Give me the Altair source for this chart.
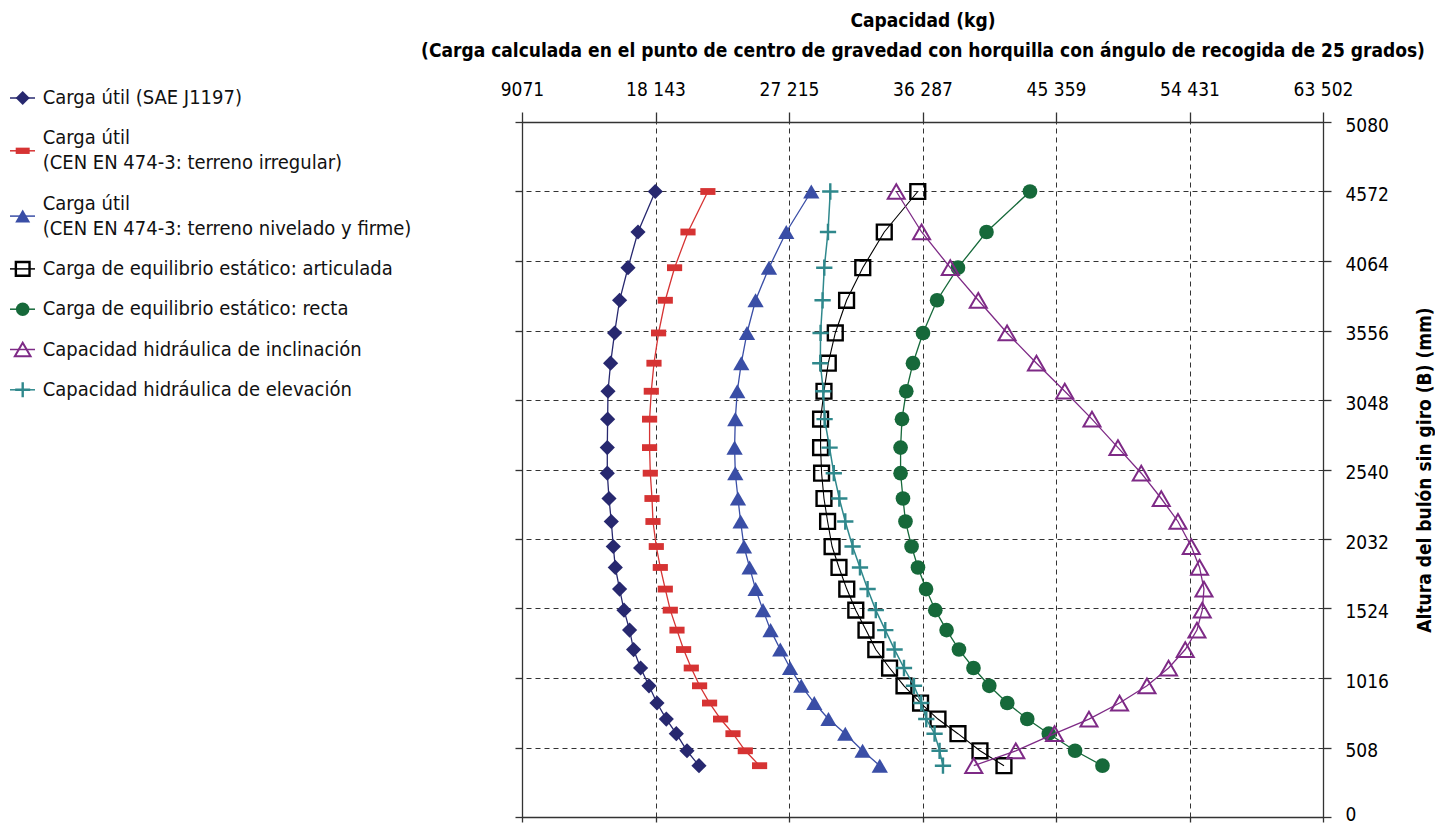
import altair as alt
import pandas as pd

FONT = "DejaVu Sans Condensed, Liberation Sans Narrow, sans-serif"

# ---------------- data ----------------
SERIES = [
    "Carga útil (SAE J1197)",
    "Carga útil (CEN EN 474-3: terreno irregular)",
    "Carga útil (CEN EN 474-3: terreno nivelado y firme)",
    "Carga de equilibrio estático: articulada",
    "Carga de equilibrio estático: recta",
    "Capacidad hidráulica de inclinación",
    "Capacidad hidráulica de elevación",
]
LEGEND_LINES = [
    ["Carga útil (SAE J1197)"],
    ["Carga útil", "(CEN EN 474-3: terreno irregular)"],
    ["Carga útil", "(CEN EN 474-3: terreno nivelado y firme)"],
    ["Carga de equilibrio estático: articulada"],
    ["Carga de equilibrio estático: recta"],
    ["Capacidad hidráulica de inclinación"],
    ["Capacidad hidráulica de elevación"],
]

# Altura del bulón (mm), from top point to bottom point
ALTURA = [4572, 4276, 4015, 3777, 3538, 3317, 3112, 2908, 2700, 2513, 2328, 2160, 1977,
          1824, 1666, 1512, 1366, 1224, 1089, 959, 833, 716, 609, 484, 375]

SAE = [18129, 16953, 16274, 15703, 15363, 15091, 14915, 14890, 14867, 14867, 14983, 15139, 15275,
       15411, 15703, 16002, 16382, 16654, 17130, 17701, 18244, 18876, 19556, 20283, 21098]
IRREG = [21703, 20351, 19440, 18808, 18353, 18040, 17857, 17741, 17741, 17789, 17905, 17972, 18197,
         18469, 18808, 19148, 19603, 20052, 20575, 21139, 21818, 22566, 23408, 24244, 25216]
NIVEL = [28729, 27030, 25855, 24944, 24360, 23972, 23701, 23565, 23517, 23565, 23748, 23925, 24156,
         24536, 24944, 25447, 25963, 26623, 27288, 28049, 28933, 29898, 31039, 32215, 33384]
ARTIC = [35966, 33689, 32228, 31128, 30360, 29884, 29592, 29361, 29361, 29429, 29592, 29837, 30142,
         30611, 31141, 31753, 32446, 33112, 34049, 35028, 36156, 37338, 38697, 40192, 41823]
RECTA = [43590, 40634, 38697, 37277, 36319, 35639, 35184, 34892, 34797, 34797, 34960, 35130, 35544,
         35979, 36530, 37155, 37923, 38765, 39750, 40824, 42047, 43406, 44867, 46654, 48516]
INCLIN = [34505, 36224, 38174, 40077, 42034, 44031, 45954, 47803, 49569, 51152, 52511, 53646, 54550,
          55114, 55413, 55297, 54937, 54142, 53007, 51540, 49678, 47599, 45261, 42625, 39771]
ELEV = [30020, 29864, 29612, 29497, 29361, 29341, 29544, 29633, 29972, 30258, 30632, 31039, 31535,
        32038, 32555, 33112, 33757, 34389, 35028, 35707, 36203, 36543, 37107, 37447, 37678]
VALUES = [SAE, IRREG, NIVEL, ARTIC, RECTA, INCLIN, ELEV]

X_TICKS = [9071, 18143, 27215, 36287, 45359, 54431, 63502]
Y_TICKS = [0, 508, 1016, 1524, 2032, 2540, 3048, 3556, 4064, 4572, 5080]

X_TITLE = ["Capacidad (kg)",
           "(Carga calculada en el punto de centro de gravedad con horquilla con ángulo de recogida de 25 grados)"]
Y_TITLE = "Altura del bulón sin giro (B) (mm)"

# ---------------- styles ----------------
COLORS = ["#27286f", "#d63333", "#3a4ea6", "#000000", "#16693a", "#7e2a86", "#2f888c"]
SHAPES = ["diamond", "M-1,-0.45H1V0.45H-1Z", "triangle-up", "square", "circle", "triangle-up",
          "M-1,0H1M0,-1V1"]
FILLED = [True, True, True, False, True, False, False]
SIZES = [230, 230, 265, 220, 215, 290, 265]
MARK_SW = [0, 0, 0, 2.4, 0, 2.0, 2.4]
LINE_W = [1.3, 1.3, 1.3, 1.1, 1.3, 1.3, 1.5]
AX = "#333333"

rows = []
for k, xs in enumerate(VALUES):
    for i, (x, y) in enumerate(zip(xs, ALTURA)):
        rows.append({"k": k, "i": i, "cap": x, "alt": y})
df = pd.DataFrame(rows)

XS = alt.Scale(domain=[X_TICKS[0], X_TICKS[-1]], nice=False, zero=False)
YS = alt.Scale(domain=[Y_TICKS[0], Y_TICKS[-1]], nice=False)

x_top = alt.X("cap:Q", scale=XS, axis=alt.Axis(
    orient="top", values=X_TICKS,
    labelExpr="datum.value >= 10000 ? replace(format(datum.value, ','), ',', ' ') : format(datum.value, 'd')",
    labelFont=FONT, labelFontSize=19, labelColor="#000", labelPadding=13, labelFlush=False,
    labelOverlap=False, tickSize=10, tickColor=AX, tickWidth=1.3,
    domainColor=AX, domainWidth=1.3,
    grid=True, gridColor=AX, gridDash=[5, 4], gridWidth=1, gridOpacity=1,
    title=X_TITLE, titleFont=FONT, titleFontSize=19, titleFontWeight="bold",
    titleLineHeight=30, titlePadding=20, titleColor="#000"))
y_right = alt.Y("alt:Q", scale=YS, axis=alt.Axis(
    orient="right", values=Y_TICKS, format="d",
    labelFont=FONT, labelFontSize=19, labelColor="#000", labelPadding=14,
    labelOffset={"condition": {"test": "datum.value === 0", "value": -3}, "value": 3},
    labelOverlap=False, tickSize=8, tickColor=AX, tickWidth=1.3,
    domainColor=AX, domainWidth=1.3,
    grid=True, gridColor=AX, gridDash=[5, 4], gridWidth=1, gridOpacity=1,
    title=Y_TITLE, titleFont=FONT, titleFontSize=19, titleFontWeight="bold",
    titleAngle=270, titleBaseline="top", titlePadding=27, titleColor="#000"))

layers = []
for k in range(len(SERIES)):
    sub = alt.Chart(df).transform_filter(alt.datum.k == k)
    layers.append(sub.mark_line(color=COLORS[k], strokeWidth=LINE_W[k]).encode(
        x=x_top, y=y_right, order="i:Q"))
    layers.append(sub.mark_point(shape=SHAPES[k], size=SIZES[k], filled=FILLED[k], color=COLORS[k],
                                 strokeWidth=MARK_SW[k], opacity=1).encode(x=x_top, y=y_right))

frame = alt.Chart(df).mark_point(opacity=0).encode(
    x=alt.X("cap:Q", scale=XS, axis=alt.Axis(
        orient="bottom", values=X_TICKS, labels=False, title=None, grid=False,
        tickSize=5, tickColor=AX, tickWidth=1.3, domainColor=AX, domainWidth=1.3)),
    y=alt.Y("alt:Q", scale=YS, axis=alt.Axis(
        orient="left", values=Y_TICKS, labels=False, title=None, grid=False,
        tickSize=7, tickColor=AX, tickWidth=1.3, domainColor=AX, domainWidth=1.3)))

main = alt.layer(alt.layer(*layers), frame).resolve_axis(
    x="independent", y="independent").properties(width=801, height=695)

# ---------------- legend panel ----------------
# legend positions are relative to the top edge of the plot area (panels are origin-aligned)
LEG_W, LEG_H = 405, 420
FIRST, LINE_H, GAP = -24, 25, 40.3
SYM_X0, SYM_X1, SYM_XM, TEXT_X = 1, 26, 13.7, 33.7

sym_rows, text_rows = [], []
t = FIRST
for k, lines in enumerate(LEGEND_LINES):
    n = len(lines)
    sym_rows.append({"k": k, "pos": t + (n - 1) * LINE_H / 2, "x0": SYM_X0, "x1": SYM_X1, "xm": SYM_XM})
    for j, ln in enumerate(lines):
        text_rows.append({"k": k, "pos": t + j * LINE_H, "tx": TEXT_X, "line": ln})
    t += (n - 1) * LINE_H + GAP
sym_df = pd.DataFrame(sym_rows)
text_df = pd.DataFrame(text_rows)

LXS = alt.Scale(domain=[0, LEG_W], nice=False, zero=False)
LYS = alt.Scale(domain=[0, LEG_H], nice=False, reverse=True)

leg_layers = []
for k in range(len(SERIES)):
    s = alt.Chart(sym_df).transform_filter(alt.datum.k == k)
    leg_layers.append(s.mark_rule(color=COLORS[k], strokeWidth=1.5).encode(
        x=alt.X("x0:Q", scale=LXS, axis=None), x2="x1:Q",
        y=alt.Y("pos:Q", scale=LYS, axis=None)))
    leg_layers.append(s.mark_point(shape=SHAPES[k], size=SIZES[k] * 0.85, filled=FILLED[k],
                                   color=COLORS[k], strokeWidth=MARK_SW[k], opacity=1).encode(
        x=alt.X("xm:Q", scale=LXS, axis=None), y=alt.Y("pos:Q", scale=LYS, axis=None)))
leg_layers.append(alt.Chart(text_df).mark_text(
    align="left", baseline="middle", font=FONT, fontSize=20, color="#111").encode(
    x=alt.X("tx:Q", scale=LXS, axis=None), y=alt.Y("pos:Q", scale=LYS, axis=None), text="line:N"))

legend = alt.layer(*leg_layers).properties(width=LEG_W, height=LEG_H)

chart = alt.hconcat(legend, main, spacing=5).properties(
    padding={"left": 0, "top": 2, "right": 0, "bottom": -2}
).configure(font=FONT).configure_view(stroke="transparent")

chart.save("out.html", embed_options={"renderer": "svg", "actions": False})
